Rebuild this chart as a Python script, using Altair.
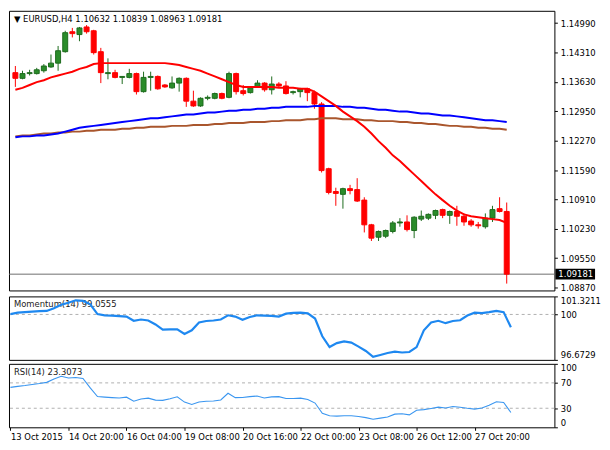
import json
import altair as alt
import pandas as pd

FONT = "DejaVu Sans"
W = 550
H_MAIN = 282
H_IND = 64

header = "▼ EURUSD,H4  1.10632 1.10839 1.08963 1.09181"
momentum_caption = "Momentum(14) 99.0555"
rsi_caption = "RSI(14) 23.3073"
last_close = 1.09181

opens = [1.13845, 1.13713, 1.13823, 1.13823, 1.13889, 1.13977, 1.14065, 1.14330, 1.14792, 1.14726,
         1.14902, 1.14814, 1.14330, 1.13823, 1.13845, 1.13735, 1.13735, 1.13823, 1.13405, 1.13735,
         1.13757, 1.13559, 1.13493, 1.13603, 1.13713, 1.13185, 1.13075, 1.13251, 1.13251, 1.13361,
         1.13273, 1.13823, 1.13427, 1.13383, 1.13515, 1.13603, 1.13449, 1.13581, 1.13537, 1.13383,
         1.13405, 1.13471, 1.13383, 1.13119, 1.11622, 1.11094, 1.11028, 1.11160, 1.11138, 1.10895,
         1.10323, 1.10037, 1.10059, 1.10169, 1.10367, 1.10389, 1.10191, 1.10455, 1.10477, 1.10543,
         1.10675, 1.10543, 1.10631, 1.10521, 1.10411, 1.10323, 1.10279, 1.10477, 1.10697, 1.10632]
highs = [1.13999, 1.13889, 1.13911, 1.13955, 1.14043, 1.14264, 1.14462, 1.14814, 1.14880, 1.14902,
         1.14946, 1.14836, 1.14418, 1.14176, 1.13911, 1.13757, 1.13933, 1.13845, 1.13867, 1.13867,
         1.13779, 1.13581, 1.13757, 1.13735, 1.13735, 1.13427, 1.13273, 1.13317, 1.13383, 1.13383,
         1.13867, 1.13845, 1.13559, 1.13515, 1.13669, 1.13625, 1.13757, 1.13625, 1.13647, 1.13427,
         1.13493, 1.13493, 1.13427, 1.13163, 1.11644, 1.11182, 1.11182, 1.11248, 1.11402, 1.10961,
         1.10345, 1.10191, 1.10213, 1.10411, 1.10477, 1.10543, 1.10521, 1.10653, 1.10587, 1.10675,
         1.10697, 1.10653, 1.10763, 1.10587, 1.10455, 1.10389, 1.10587, 1.10763, 1.10961, 1.10839]
lows = [1.13515, 1.13691, 1.13779, 1.13801, 1.13845, 1.13955, 1.13889, 1.14308, 1.14660, 1.14572,
        1.14748, 1.14264, 1.13603, 1.13691, 1.13713, 1.13581, 1.13713, 1.13339, 1.13383, 1.13427,
        1.13449, 1.13493, 1.13471, 1.13405, 1.13053, 1.13053, 1.13053, 1.13207, 1.13229, 1.13229,
        1.13251, 1.13339, 1.13317, 1.13361, 1.13493, 1.13405, 1.13339, 1.13493, 1.13339, 1.13339,
        1.13273, 1.13185, 1.13009, 1.11534, 1.11028, 1.10763, 1.10697, 1.11028, 1.10851, 1.10147,
        1.09949, 1.09949, 1.10015, 1.10125, 1.10279, 1.10169, 1.10015, 1.10411, 1.10433, 1.10455,
        1.10477, 1.10345, 1.10301, 1.10301, 1.10279, 1.10235, 1.10235, 1.10389, 1.10609, 1.08963]
closes = [1.13713, 1.13823, 1.13845, 1.13911, 1.13999, 1.14065, 1.14352, 1.14770, 1.14748, 1.14880,
          1.14792, 1.14308, 1.13845, 1.13845, 1.13735, 1.13757, 1.13823, 1.13405, 1.13735, 1.13757,
          1.13471, 1.13515, 1.13603, 1.13713, 1.13185, 1.13075, 1.13251, 1.13273, 1.13361, 1.13251,
          1.13823, 1.13405, 1.13361, 1.13493, 1.13603, 1.13449, 1.13581, 1.13537, 1.13361, 1.13405,
          1.13471, 1.13383, 1.13119, 1.11578, 1.11072, 1.11050, 1.11160, 1.11116, 1.10873, 1.10323,
          1.10015, 1.10169, 1.10191, 1.10367, 1.10389, 1.10213, 1.10499, 1.10521, 1.10565, 1.10653,
          1.10543, 1.10631, 1.10521, 1.10389, 1.10323, 1.10301, 1.10477, 1.10675, 1.10631, 1.09181]
ma_red = [1.13449, 1.13493, 1.13559, 1.13625, 1.13669, 1.13735, 1.13779, 1.13823, 1.13867, 1.13933,
          1.13977, 1.14043, 1.14065, 1.14065, 1.14065, 1.14065, 1.14065, 1.14065, 1.14065, 1.14065,
          1.14065, 1.14065, 1.14043, 1.14021, 1.13977, 1.13933, 1.13889, 1.13823, 1.13757, 1.13691,
          1.13625, 1.13559, 1.13515, 1.13515, 1.13515, 1.13515, 1.13515, 1.13493, 1.13493, 1.13493,
          1.13471, 1.13471, 1.13405, 1.13295, 1.13185, 1.13075, 1.12943, 1.12833, 1.12723, 1.12591,
          1.12436, 1.12260, 1.12106, 1.11930, 1.11798, 1.11644, 1.11490, 1.11336, 1.11182, 1.11028,
          1.10895, 1.10763, 1.10653, 1.10565, 1.10521, 1.10499, 1.10477, 1.10455, 1.10433, 1.10367]
ma_blue = [1.12348, 1.12370, 1.12370, 1.12392, 1.12392, 1.12414, 1.12436, 1.12480, 1.12524, 1.12569,
           1.12591, 1.12613, 1.12635, 1.12657, 1.12679, 1.12701, 1.12723, 1.12745, 1.12767, 1.12789,
           1.12789, 1.12811, 1.12833, 1.12855, 1.12877, 1.12877, 1.12899, 1.12921, 1.12921, 1.12943,
           1.12965, 1.12965, 1.12987, 1.12987, 1.13009, 1.13009, 1.13031, 1.13031, 1.13053, 1.13053,
           1.13053, 1.13053, 1.13075, 1.13075, 1.13075, 1.13075, 1.13053, 1.13053, 1.13031, 1.13031,
           1.13009, 1.12987, 1.12987, 1.12965, 1.12943, 1.12943, 1.12921, 1.12899, 1.12899, 1.12877,
           1.12855, 1.12855, 1.12833, 1.12811, 1.12789, 1.12767, 1.12745, 1.12745, 1.12723, 1.12701]
ma_brown = [1.12370, 1.12392, 1.12392, 1.12414, 1.12436, 1.12436, 1.12458, 1.12458, 1.12480, 1.12480,
            1.12502, 1.12502, 1.12524, 1.12524, 1.12524, 1.12546, 1.12546, 1.12569, 1.12569, 1.12591,
            1.12591, 1.12591, 1.12613, 1.12613, 1.12613, 1.12635, 1.12635, 1.12635, 1.12657, 1.12657,
            1.12679, 1.12679, 1.12679, 1.12701, 1.12701, 1.12701, 1.12723, 1.12723, 1.12745, 1.12745,
            1.12745, 1.12767, 1.12767, 1.12789, 1.12789, 1.12789, 1.12767, 1.12767, 1.12767, 1.12745,
            1.12745, 1.12723, 1.12723, 1.12723, 1.12701, 1.12701, 1.12679, 1.12679, 1.12657, 1.12657,
            1.12635, 1.12613, 1.12613, 1.12591, 1.12591, 1.12569, 1.12569, 1.12546, 1.12546, 1.12524]
momentum = [100.024, 100.132, 100.168, 100.204, 100.240, 100.255, 100.456, 100.709, 100.853, 101.033,
            100.997, 100.745, 100.024, 99.938, 99.916, 99.880, 99.844, 99.534, 99.628, 99.556,
            99.267, 98.885, 98.907, 98.907, 98.568, 98.835, 99.411, 99.520, 99.556, 99.628,
            99.938, 99.844, 99.606, 99.808, 99.938, 99.916, 99.894, 99.844, 100.060, 100.110,
            100.132, 100.082, 99.700, 98.403, 97.610, 97.898, 98.021, 97.934, 97.646, 97.322,
            96.889, 97.033, 97.177, 97.271, 97.213, 97.249, 97.610, 98.835, 99.411, 99.534,
            99.361, 99.520, 99.577, 99.916, 100.132, 100.096, 100.168, 100.255, 100.168, 99.0555]
rsi = [62.9, 64.5, 65.8, 67.4, 68.9, 70.8, 76.0, 80.5, 77.7, 78.5,
       77.0, 62.0, 48.5, 47.6, 46.8, 46.2, 47.5, 41.0, 44.5, 45.9,
       42.8, 42.5, 45.0, 48.0, 39.7, 36.0, 40.0, 41.1, 41.4, 43.0,
       53.6, 46.8, 47.0, 48.4, 49.2, 46.3, 48.0, 48.3, 45.5, 45.3,
       45.9, 43.9, 38.2, 22.0, 18.3, 17.6, 18.1, 18.2, 16.9, 15.2,
       12.6, 14.5, 16.2, 20.7, 21.3, 19.6, 26.9, 27.8, 29.7, 31.8,
       30.5, 32.7, 31.6, 29.9, 28.7, 30.3, 34.8, 40.2, 39.2, 23.3073]

time_labels = ["13 Oct 2015", "14 Oct 20:00", "16 Oct 04:00", "19 Oct 08:00", "20 Oct 16:00",
               "22 Oct 00:00", "23 Oct 08:00", "26 Oct 12:00", "27 Oct 20:00"]
time_label_bars = [0, 8, 16, 24, 32, 40, 48, 56, 64]
price_ticks = [1.14990, 1.14310, 1.13630, 1.12950, 1.12270, 1.11590, 1.10910, 1.10230, 1.09550, 1.08870]
price_range = [1.08804, 1.15276]
momentum_ticks = [96.6729, 100, 101.3211]
momentum_ref = [100]
rsi_ticks = [0, 30, 70, 100]
rsi_refs = [30, 70]
bar_range = [-0.2, 75.0]

GREEN = "#2a8c2a"
GREEN_EDGE = "#1d6b1d"
RED = "#ff0000"

df = pd.DataFrame({
    "bar": list(range(len(opens))),
    "open": opens, "high": highs, "low": lows, "close": closes,
    "ma_red": ma_red, "ma_blue": ma_blue, "ma_brown": ma_brown,
    "momentum": momentum, "rsi": rsi,
})

x_scale = alt.Scale(domain=bar_range, nice=False, zero=False)
bull = "datum.close >= datum.open"

y_main_scale = alt.Scale(domain=price_range, nice=False, zero=False)
y_main_axis = alt.Axis(orient="right", values=price_ticks, format=".5f", title=None,
                       labelFlush=False, tickSize=3, labelPadding=3)

def X(field="bar"):
    return alt.X(f"{field}:Q", scale=x_scale, axis=None)

def YM(field):
    return alt.Y(f"{field}:Q", scale=y_main_scale, axis=y_main_axis)

base = alt.Chart(df)

header_text = alt.Chart(pd.DataFrame({"t": [header]})).mark_text(
    align="left", baseline="middle", font=FONT, fontSize=8.5, color="black"
).encode(x=alt.value(5), y=alt.value(8), text="t:N")

last_df = pd.DataFrame({"price": [last_close], "label": [f"{last_close:.5f}"]})
price_line = alt.Chart(last_df).mark_rule(color="#6e6e6e", strokeWidth=1).encode(y=YM("price"))

wicks = base.mark_rule(strokeWidth=1, clip=True).encode(
    x=X(), y=YM("low"), y2="high:Q",
    color=alt.condition(bull, alt.value(GREEN_EDGE), alt.value(RED)),
)
bodies = base.mark_bar(size=5, strokeWidth=1, clip=True).encode(
    x=X(), y=YM("open"), y2="close:Q",
    fill=alt.condition(bull, alt.value(GREEN), alt.value(RED)),
    stroke=alt.condition(bull, alt.value(GREEN_EDGE), alt.value(RED)),
)
line_brown = base.mark_line(color="#a9562d", strokeWidth=2, clip=True).encode(x=X(), y=YM("ma_brown"))
line_blue = base.mark_line(color="#0000ff", strokeWidth=2, clip=True).encode(x=X(), y=YM("ma_blue"))
line_red = base.mark_line(color="#ff0000", strokeWidth=2, clip=True).encode(x=X(), y=YM("ma_red"))

price_box = alt.Chart(last_df).mark_rule(color="black", strokeWidth=11).encode(
    y=YM("price"), x=alt.value(W + 1), x2=alt.value(W + 41))
price_box_text = alt.Chart(last_df).mark_text(
    align="left", baseline="middle", font=FONT, fontSize=8.5, color="white"
).encode(y=YM("price"), x=alt.value(W + 4), text="label:N")

main = alt.layer(header_text, price_line, wicks, bodies, line_brown, line_blue, line_red,
                 price_box, price_box_text).properties(width=W, height=H_MAIN)

# Momentum panel
y_mom_scale = alt.Scale(domain=[momentum_ticks[0], momentum_ticks[-1]], nice=False, zero=False)
y_mom_axis = alt.Axis(orient="right", values=momentum_ticks, format=".4~f", title=None,
                      labelFlush=True, tickSize=3, labelPadding=3)
mom_caption = alt.Chart(pd.DataFrame({"t": [momentum_caption]})).mark_text(
    align="left", baseline="middle", font=FONT, fontSize=8.5, color="#222222"
).encode(x=alt.value(5), y=alt.value(8), text="t:N")
mom_ref = alt.Chart(pd.DataFrame({"v": momentum_ref})).mark_rule(
    color="#b0b0b0", strokeDash=[3, 3], strokeWidth=1
).encode(y=alt.Y("v:Q", scale=y_mom_scale, axis=y_mom_axis))
mom_line = base.mark_line(color="#1e88f0", strokeWidth=2.2, clip=True).encode(
    x=X(), y=alt.Y("momentum:Q", scale=y_mom_scale, axis=y_mom_axis))
mom = alt.layer(mom_caption, mom_ref, mom_line).properties(width=W, height=H_IND)

# RSI panel
y_rsi_scale = alt.Scale(domain=[rsi_ticks[0], rsi_ticks[-1]], nice=False, zero=False)
y_rsi_axis = alt.Axis(orient="right", values=rsi_ticks, format="d", title=None,
                      labelFlush=True, tickSize=3, labelPadding=3)
label_expr = f"{json.dumps(time_labels)}[indexof({json.dumps(time_label_bars)}, datum.value)]"
x_bottom_axis = alt.Axis(values=time_label_bars, labelExpr=label_expr, labelAlign="left",
                         labelFlush=False, labelOverlap=False, labelBound=False,
                         tickSize=3, labelPadding=2, title=None)
rsi_caption_text = alt.Chart(pd.DataFrame({"t": [rsi_caption]})).mark_text(
    align="left", baseline="middle", font=FONT, fontSize=8.5, color="#222222"
).encode(x=alt.value(5), y=alt.value(8), text="t:N")
rsi_ref = alt.Chart(pd.DataFrame({"v": rsi_refs})).mark_rule(
    color="#b0b0b0", strokeDash=[3, 3], strokeWidth=1
).encode(y=alt.Y("v:Q", scale=y_rsi_scale, axis=y_rsi_axis))
rsi_line = base.mark_line(color="#3a96f0", strokeWidth=1.1, clip=True).encode(
    x=alt.X("bar:Q", scale=x_scale, axis=x_bottom_axis),
    y=alt.Y("rsi:Q", scale=y_rsi_scale, axis=y_rsi_axis))
rsi_panel = alt.layer(rsi_caption_text, rsi_ref, rsi_line).properties(width=W, height=H_IND)

chart = alt.vconcat(main, mom, rsi_panel, spacing=2).properties(
    padding=0, background="white"
).configure_view(
    stroke="black", strokeWidth=1
).configure_axis(
    labelFont=FONT, labelFontSize=8.5, labelColor="black", tickColor="black",
    domain=False, grid=False
)

chart.save("out.html", embed_options={"renderer": "svg", "actions": False})
